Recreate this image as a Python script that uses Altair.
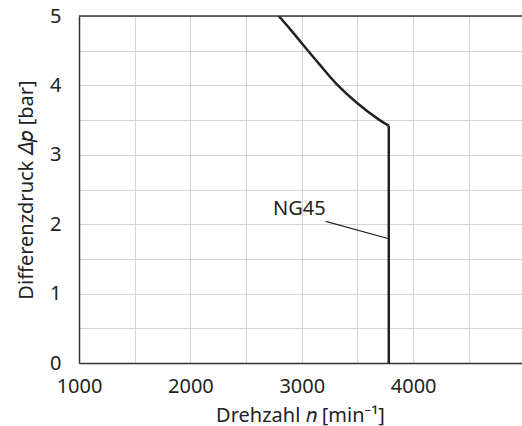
import altair as alt
import pandas as pd

# curve NG45 (speed n in 1/min, differential pressure in bar)
curve_n = [2793, 2901, 3009, 3161, 3313, 3502, 3699, 3781]
curve_p = [5.0, 4.80, 4.59, 4.30, 4.02, 3.74, 3.50, 3.42]
# vertical speed limit
limit_n = [3781, 3781]
limit_p = [3.42, 0.0]

# leader line for the label
leader_n = [3215, 3781]
leader_p = [2.04, 1.79]
label_n = [2978]
label_p = [2.22]
label_text = ["NG45"]

x_grid = [1000, 1500, 2000, 2500, 3000, 3500, 4000, 4500]
y_grid = [0, 0.5, 1, 1.5, 2, 2.5, 3, 3.5, 4, 4.5, 5]

FONT = "Noto Sans"
DARK = "#222222"

curve_df = pd.DataFrame({"n": curve_n, "p": curve_p})
limit_df = pd.DataFrame({"n": limit_n, "p": limit_p})
leader_df = pd.DataFrame({"n": leader_n, "p": leader_p})
label_df = pd.DataFrame({"n": label_n, "p": label_p, "t": label_text})
top_df = pd.DataFrame({"p": [5.0]})

xs = alt.Scale(domain=[1000, 4977], nice=False, zero=False)
ys = alt.Scale(domain=[0, 5], nice=False, zero=False)

x_axis = alt.Axis(
    values=x_grid,
    labelExpr="datum.value % 1000 == 0 ? format(datum.value, 'd') : ''",
    title="Drehzahl 𝑛 [min⁻¹]",
    titleX=221, titleY=58, titleBaseline="alphabetic",
    ticks=False, labelPadding=13, labelFlush=False, labelOverlap=False,
)
y_axis = alt.Axis(
    values=y_grid,
    labelExpr="datum.value % 1 == 0 ? format(datum.value, 'd') : ''",
    title="Differenzdruck 𝛥𝑝 [bar]",
    titleX=-47, titleBaseline="alphabetic",
    ticks=False, labelPadding=18, labelFlush=False, labelOverlap=False,
)

X = alt.X("n:Q", scale=xs, axis=x_axis)
Y = alt.Y("p:Q", scale=ys, axis=y_axis)

curve = alt.Chart(curve_df).mark_line(
    color=DARK, strokeWidth=2.5, interpolate="catmull-rom", clip=True
).encode(x=X, y=Y)

limit = alt.Chart(limit_df).mark_line(color=DARK, strokeWidth=2.5).encode(x=X, y=Y)

leader = alt.Chart(leader_df).mark_line(color=DARK, strokeWidth=1.2).encode(x=X, y=Y)

label = alt.Chart(label_df).mark_text(
    font=FONT, fontSize=20, color=DARK, align="center", baseline="middle"
).encode(x=X, y=Y, text="t:N")

top = alt.Chart(top_df).mark_rule(color="#333333", strokeWidth=1.5).encode(y=Y)

chart = alt.layer(curve, limit, leader, label, top).properties(
    width=443, height=347,
    autosize=alt.AutoSizeParams(type="none"),
    padding={"left": 79, "top": 16, "right": 0, "bottom": 63},
).configure_view(stroke=None).configure_axis(
    grid=True, gridColor="#d4d4d4", gridWidth=1,
    domainColor="#333333", domainWidth=1.5,
    labelFont=FONT, labelFontSize=20, labelColor=DARK,
    titleFont=FONT, titleFontSize=20, titleColor=DARK, titleFontWeight="normal",
)

chart.save("out.html", embed_options={"renderer": "svg", "actions": False})
